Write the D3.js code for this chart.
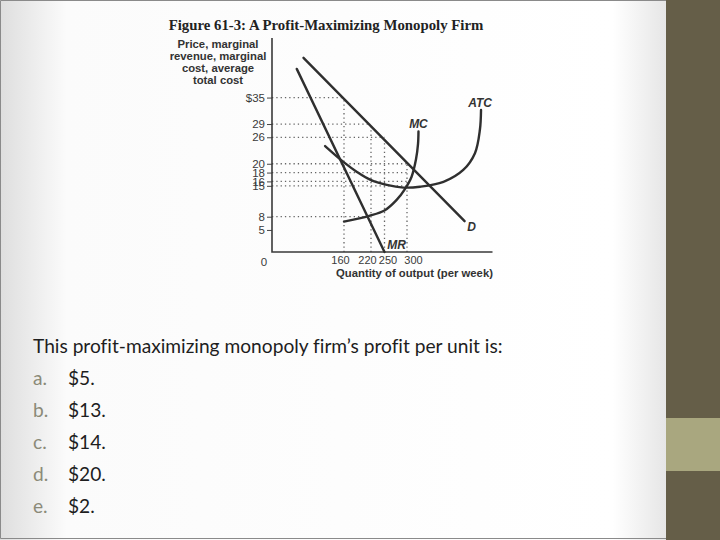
<!DOCTYPE html>
<html>
<head>
<meta charset="utf-8">
<script src="https://cdn.jsdelivr.net/npm/d3@7/dist/d3.min.js"></script>
<style>
  html, body { margin: 0; padding: 0; background: #fff; }
  svg { display: block; }
</style>
</head>
<body>
<svg id="slide" width="720" height="540"></svg>
<script>
// curve data (quantity, price)
var demand = [[70, 44], [428, 7]];
var marginalRevenue = [[55, 41.5], [250, 0]];
var marginalCost = [[160, 6.9], [216, 8.2], [250, 9.4], [277, 11.8], [295, 14.2], [310, 17], [320, 21], [324.5, 24.5], [325.5, 27.3]];
var averageTotalCost = [[118, 24], [160, 20.3], [188, 18.2], [218, 16.4], [255, 15.2], [292, 14.6], [329, 14.8], [381, 15.9], [425, 18.6], [451, 22.4], [462, 27.7], [464.5, 32.2]];

// axis ticks
var priceTicks = [5, 8, 15, 16, 18, 20, 26, 29, 35];
var quantityTicks = [160, 220, 250, 300];

// dotted guide lines: [price, quantity]
var hGuides = [[35, 160], [29, 220], [26, 250], [20, 300], [18, 300], [16, 300], [15, 300], [8, 220]];
var vGuides = [[160, 35], [220, 29], [250, 26], [300, 20]];

var yLabelLines = ["Price, marginal", "revenue, marginal", "cost, average", "total cost"];
var question = "This profit-maximizing monopoly firm\u2019s profit per unit is:";
var optionLetters = ["a.", "b.", "c.", "d.", "e."];
var optionValues = ["$5.", "$13.", "$14.", "$20.", "$2."];

var svg = d3.select("#slide");

// slide background
var defs = svg.append("defs");
var grad = defs.append("linearGradient").attr("id", "bg").attr("x1", 0).attr("x2", 1).attr("y1", 0).attr("y2", 0);
grad.append("stop").attr("offset", 0).attr("stop-color", "#dedede");
grad.append("stop").attr("offset", 0.1).attr("stop-color", "#fbfbfb");
grad.append("stop").attr("offset", 0.92).attr("stop-color", "#ffffff");
grad.append("stop").attr("offset", 1).attr("stop-color", "#e6e6e6");

svg.append("rect").attr("width", 720).attr("height", 540).attr("fill", "#fff");
svg.append("rect").attr("x", 0).attr("y", 0).attr("width", 666).attr("height", 540).attr("fill", "url(#bg)");
svg.append("rect").attr("x", 666).attr("y", 0).attr("width", 54).attr("height", 540).attr("fill", "#655e48");
svg.append("rect").attr("x", 666).attr("y", 418).attr("width", 54).attr("height", 53).attr("fill", "#a9a77f");
svg.append("path").attr("d", "M666,0.5 H0.5 V538.5 H666")
    .attr("fill", "none").attr("stroke", "#8a8a8a").attr("stroke-width", 1);

// chart
var x = d3.scaleLinear().domain([0, 490]).range([272, 492.5]);
var y = d3.scaleLinear().domain([0, 48.5]).range([252, 38]);

var ink = "#2f2f2f";
var g = svg.append("g");

g.append("text")
    .attr("x", 326).attr("y", 30)
    .attr("text-anchor", "middle")
    .attr("font-family", "Liberation Serif")
    .attr("font-weight", "bold")
    .attr("font-size", 14.8)
    .attr("fill", "#222")
    .text("Figure 61-3: A Profit-Maximizing Monopoly Firm");

g.append("g").selectAll("text")
    .data(yLabelLines)
    .enter()
    .append("text")
    .attr("x", 218)
    .attr("y", (d, i) => 47.5 + i * 12.3)
    .attr("text-anchor", "middle")
    .attr("font-family", "Liberation Sans")
    .attr("font-weight", "bold")
    .attr("font-size", 11.3)
    .attr("fill", "#333")
    .text(d => d);

// dotted guides
g.append("g").selectAll("line")
    .data(hGuides)
    .enter()
    .append("line")
    .attr("x1", x(0)).attr("x2", d => x(d[1]))
    .attr("y1", d => y(d[0])).attr("y2", d => y(d[0]))
    .attr("stroke", "#666").attr("stroke-width", 1.3)
    .attr("stroke-dasharray", "1.3,3");

g.append("g").selectAll("line")
    .data(vGuides)
    .enter()
    .append("line")
    .attr("x1", d => x(d[0])).attr("x2", d => x(d[0]))
    .attr("y1", y(0)).attr("y2", d => y(d[1]))
    .attr("stroke", "#666").attr("stroke-width", 1.3)
    .attr("stroke-dasharray", "1.3,3");

// axes
var yAxis = d3.axisLeft(y)
    .tickValues(priceTicks)
    .tickSize(5)
    .tickPadding(2)
    .tickFormat(d => d == 35 ? "$35" : d);
var ya = g.append("g").attr("transform", "translate(" + x(0) + ",0)").call(yAxis);
ya.select(".domain").remove();
ya.selectAll("line").attr("stroke", "#444").attr("stroke-width", 1);
ya.selectAll("text")
    .attr("font-family", "Liberation Sans")
    .attr("font-size", 11.5)
    .attr("fill", "#3a3a3a");

var labelNudge = { 160: -4, 220: -4, 250: 3, 300: 6 };
var xAxis = d3.axisBottom(x)
    .tickValues(quantityTicks)
    .tickSize(0)
    .tickPadding(4);
var xa = g.append("g").attr("transform", "translate(0," + y(0) + ")").call(xAxis);
xa.select(".domain").remove();
xa.selectAll("text")
    .attr("dx", d => labelNudge[d])
    .attr("font-family", "Liberation Sans")
    .attr("font-size", 11)
    .attr("fill", "#3a3a3a");

g.append("text")
    .attr("x", x(0) - 8).attr("y", y(0) + 14)
    .attr("text-anchor", "middle")
    .attr("font-family", "Liberation Sans")
    .attr("font-size", 11.5)
    .attr("fill", "#3a3a3a")
    .text("0");

g.append("path")
    .attr("d", "M" + x(0) + "," + y.range()[1] + " V" + y(0) + " H" + x.range()[1])
    .attr("fill", "none").attr("stroke", "#3a3a3a").attr("stroke-width", 1.6);

g.append("text")
    .attr("x", 414.5).attr("y", 277)
    .attr("text-anchor", "middle")
    .attr("font-family", "Liberation Sans")
    .attr("font-weight", "bold")
    .attr("font-size", 11.3)
    .attr("fill", "#333")
    .text("Quantity of output (per week)");

// curves
var line = d3.line().x(d => x(d[0])).y(d => y(d[1])).curve(d3.curveCatmullRom);
var curves = [
    { name: "D", pts: demand, dx: 7, dy: 10 },
    { name: "MR", pts: marginalRevenue, dx: 12, dy: -3 },
    { name: "MC", pts: marginalCost, dx: 0, dy: -4 },
    { name: "ATC", pts: averageTotalCost, dx: -1, dy: -3 }
];

g.append("g").selectAll("path")
    .data(curves)
    .enter()
    .append("path")
    .attr("d", d => line(d.pts))
    .attr("fill", "none")
    .attr("stroke", ink)
    .attr("stroke-width", 2.4)
    .attr("stroke-linecap", "round");

g.append("g").selectAll("text")
    .data(curves)
    .enter()
    .append("text")
    .attr("x", d => x(d.pts[d.pts.length - 1][0]) + d.dx)
    .attr("y", d => y(d.pts[d.pts.length - 1][1]) + d.dy)
    .attr("text-anchor", "middle")
    .attr("font-family", "Liberation Sans")
    .attr("font-style", "italic")
    .attr("font-weight", "bold")
    .attr("font-size", 12)
    .attr("fill", "#333")
    .text(d => d.name);

// question text
var q = svg.append("text")
    .attr("x", 33).attr("y", 353)
    .attr("font-family", "Lato")
    .attr("font-size", 20)
    .attr("fill", "#1e1e1e")
    .style("font-variant-ligatures", "none")
    .text(question);
var fs = 20 * 470 / q.node().getComputedTextLength();
q.attr("font-size", fs);

var opts = svg.append("g").selectAll("g")
    .data(optionLetters)
    .enter()
    .append("g")
    .attr("transform", (d, i) => "translate(0," + (385 + i * 32) + ")");
opts.append("text")
    .attr("x", 33)
    .attr("font-family", "Lato")
    .attr("font-size", fs)
    .attr("fill", "#8b8a78")
    .text(d => d);
opts.append("text")
    .attr("x", 68)
    .attr("font-family", "Lato")
    .attr("font-size", fs)
    .attr("fill", "#1e1e1e")
    .text((d, i) => optionValues[i]);
</script>
</body>
</html>
